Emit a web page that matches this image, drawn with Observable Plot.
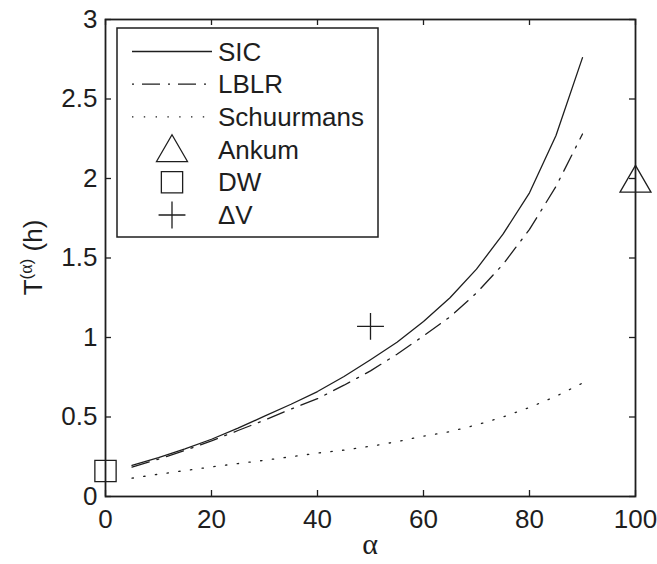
<!DOCTYPE html>
<html>
<head>
<meta charset="utf-8">
<script src="https://cdn.jsdelivr.net/npm/d3@7"></script>
<script src="https://cdn.jsdelivr.net/npm/@observablehq/plot@0.6"></script>
<style>
  body { margin: 0; background: #fff; }
  #chart { width: 657px; height: 564px; }
</style>
</head>
<body>
<div id="chart"></div>
<script>
// ---- data ----
const alpha = [5, 10, 15, 20, 25, 30, 35, 40, 45, 50, 55, 60, 65, 70, 75, 80, 85, 90];
const sic = [0.195, 0.245, 0.30, 0.36, 0.43, 0.505, 0.58, 0.66, 0.755, 0.86, 0.97, 1.10, 1.25, 1.43, 1.65, 1.91, 2.27, 2.76];
const lblr = [0.185, 0.235, 0.29, 0.35, 0.415, 0.48, 0.55, 0.615, 0.70, 0.79, 0.895, 1.01, 1.13, 1.28, 1.46, 1.68, 1.95, 2.28];
const schuurmans = [0.115, 0.14, 0.163, 0.186, 0.207, 0.228, 0.25, 0.273, 0.292, 0.316, 0.345, 0.38, 0.408, 0.45, 0.50, 0.56, 0.63, 0.713];
const seriesNames = ["SIC", "LBLR", "Schuurmans"];
const markerNames = ["Ankum", "DW", "ΔV"];
const markerAlpha = [100, 0, 50];
const markerT = [1.97, 0.16, 1.07];
const xTicks = [0, 20, 40, 60, 80, 100];
const yTicks = [0, 0.5, 1, 1.5, 2, 2.5, 3];

// ---- styles ----
const ink = "#1e1e1e";
const dash = { SIC: null, LBLR: "18,8,2,8", Schuurmans: "1.4,10.4" };
const symbolOf = { "Ankum": "triangle", "DW": "square", "ΔV": "plus" };
const rOf = { "Ankum": 11.5, "DW": 12, "ΔV": 8.7 };
const font = "'Liberation Sans', Arial, Helvetica, sans-serif";

const seriesValues = [sic, lblr, schuurmans];
const rows = [];
seriesNames.forEach((name, i) => alpha.forEach((a, j) => rows.push({ series: name, alpha: a, T: seriesValues[i][j] })));
const markers = markerNames.map((name, i) => ({ name, alpha: markerAlpha[i], T: markerT[i] }));

const W = 657, H = 564, mL = 105, mR = 22, mT = 19, mB = 68;
const fw = W - mL - mR, fh = H - mT - mB;

const plot = Plot.plot({
  width: W, height: H,
  marginLeft: mL, marginRight: mR, marginTop: mT, marginBottom: mB,
  style: { fontFamily: font, fontSize: "26px", color: ink, background: "#fff", overflow: "visible" },
  x: { domain: [0, 100] },
  y: { domain: [0, 3] },
  marks: [
    ...seriesNames.map(name => Plot.line(rows.filter(r => r.series === name), {
      x: "alpha", y: "T", stroke: ink, strokeWidth: 1.3, strokeDasharray: dash[name]
    })),
    ...markerNames.map(name => Plot.dot(markers.filter(m => m.name === name), {
      x: "alpha", y: "T", symbol: symbolOf[name], r: rOf[name], stroke: ink, strokeWidth: 1.3, fill: "none"
    })),
    Plot.frame({ stroke: ink, strokeWidth: 1.8 }),
    Plot.tickX(xTicks, { x: d => d, insetTop: fh - 6, stroke: ink, strokeWidth: 1.3 }),
    Plot.tickX(xTicks, { x: d => d, insetBottom: fh - 6, stroke: ink, strokeWidth: 1.3 }),
    Plot.tickY(yTicks, { y: d => d, insetRight: fw - 6, stroke: ink, strokeWidth: 1.3 }),
    Plot.tickY(yTicks, { y: d => d, insetLeft: fw - 6, stroke: ink, strokeWidth: 1.3 }),
    Plot.axisX({ ticks: xTicks, tickSize: 0, tickPadding: 13, label: null, fontSize: 26, tickFormat: d => String(d) }),
    Plot.axisY({ ticks: yTicks, tickSize: 0, tickPadding: 8, label: null, fontSize: 26, tickFormat: d => String(d) })
  ]
});

document.getElementById("chart").appendChild(plot);
const svg = d3.select(plot);

// ---- axis titles ----
const yl = svg.append("text")
  .attr("transform", `translate(42,${mT + fh / 2}) rotate(-90)`)
  .attr("text-anchor", "middle")
  .attr("fill", ink)
  .style("font-family", font)
  .style("font-size", "26px");
yl.append("tspan").text("T");
yl.append("tspan").attr("dy", -10).style("font-size", "17px").text("(");
yl.append("tspan").style("font-size", "18px").style("font-family", "'Liberation Serif', 'DejaVu Serif', serif").text("α");
yl.append("tspan").style("font-size", "17px").text(")");
yl.append("tspan").attr("dy", 10).text(" (h)");

svg.append("text")
  .attr("x", mL + fw / 2).attr("y", 554)
  .attr("text-anchor", "middle")
  .attr("fill", ink)
  .style("font-family", "'Liberation Serif', 'DejaVu Serif', serif")
  .style("font-size", "30px")
  .text("α");

// ---- legend (inside the axes, upper left) ----
const lg = svg.append("g");
lg.append("rect").attr("x", 117).attr("y", 28).attr("width", 261).attr("height", 209)
  .attr("fill", "#fff").attr("stroke", ink).attr("stroke-width", 1.5);
const entries = [...seriesNames, ...markerNames];
const rowY = i => 51.5 + i * 32.7;
entries.forEach((name, i) => {
  const y = rowY(i);
  if (seriesNames.includes(name)) {
    lg.append("line").attr("x1", 132).attr("x2", 212).attr("y1", y).attr("y2", y)
      .attr("stroke", ink).attr("stroke-width", 1.3)
      .attr("stroke-dasharray", dash[name])
      .attr("stroke-dashoffset", name === "LBLR" ? 26 : 0);
  } else {
    const symMap = { triangle: d3.symbolTriangle, square: d3.symbolSquare, plus: d3.symbolPlus };
    const r = rOf[name];
    lg.append("path")
      .attr("transform", `translate(172,${y + (name === "Ankum" ? 3 : 0)})`)
      .attr("d", d3.symbol(symMap[symbolOf[name]], r * r * Math.PI)())
      .attr("fill", "none").attr("stroke", ink).attr("stroke-width", 1.3);
  }
  lg.append("text").attr("x", 218).attr("y", y + 9)
    .attr("text-anchor", "start")
    .attr("fill", ink)
    .style("font-family", font).style("font-size", "26px")
    .text(name);
});
</script>
</body>
</html>
